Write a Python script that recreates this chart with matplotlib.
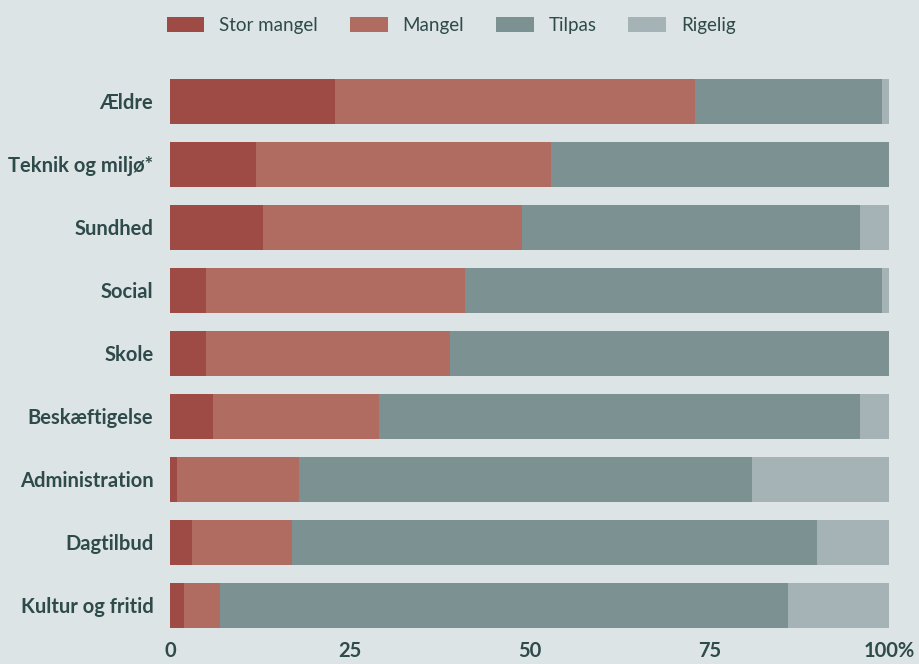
import numpy as np
import matplotlib.pyplot as plt

plt.rcParams['font.family'] = ['Lato', 'DejaVu Sans']

categories = ['Ældre', 'Teknik og miljø*', 'Sundhed', 'Social', 'Skole',
              'Beskæftigelse', 'Administration', 'Dagtilbud', 'Kultur og fritid']
series_names = ['Stor mangel', 'Mangel', 'Tilpas', 'Rigelig']
stor_mangel = [23, 12, 13, 5, 5, 6, 1, 3, 2]
mangel = [50, 41, 36, 36, 34, 23, 17, 14, 5]
tilpas = [26, 47, 47, 58, 61, 67, 63, 73, 79]
rigelig = [1, 0, 4, 1, 0, 4, 19, 10, 14]
x_ticks = [0, 25, 50, 75, 100]
x_ticklabels = ['0', '25', '50', '75', '100%']

colors = ['#9e4a45', '#b06c61', '#7c9192', '#a5b3b6']
bg = '#dce4e5'
txt = '#2f4a4a'

fig = plt.figure(figsize=(9.19, 6.64), dpi=100, facecolor=bg)
ax = fig.add_axes([0.185, 0.0407, 0.7824, 0.8539], facecolor=bg)

y = np.arange(len(categories))
left = np.zeros(len(categories))
for name, vals, c in zip(series_names, [stor_mangel, mangel, tilpas, rigelig], colors):
    vals = np.array(vals, dtype=float)
    ax.barh(y, vals, left=left, height=0.714, color=c, label=name)
    left += vals

ax.set_xlim(0, 100)
ax.set_ylim(len(categories) - 0.5, -0.5)
ax.set_yticks(y)
ax.set_yticklabels(categories, fontsize=14.5, fontweight='bold', color=txt)
ax.set_xticks(x_ticks)
ax.set_xticklabels(x_ticklabels, fontsize=14.5, fontweight='bold', color=txt)
ax.tick_params(length=0, pad=12, axis='y')
ax.tick_params(length=0, pad=3, axis='x')
for s in ax.spines.values():
    s.set_visible(False)

fig.legend(loc='upper center', bbox_to_anchor=(0.491, 1.0), ncol=4, frameon=False,
           fontsize=13.5, labelcolor=txt, handlelength=2.0, handleheight=0.9,
           columnspacing=1.7, handletextpad=0.8)

fig.savefig('out.png', dpi=100, facecolor=bg)
